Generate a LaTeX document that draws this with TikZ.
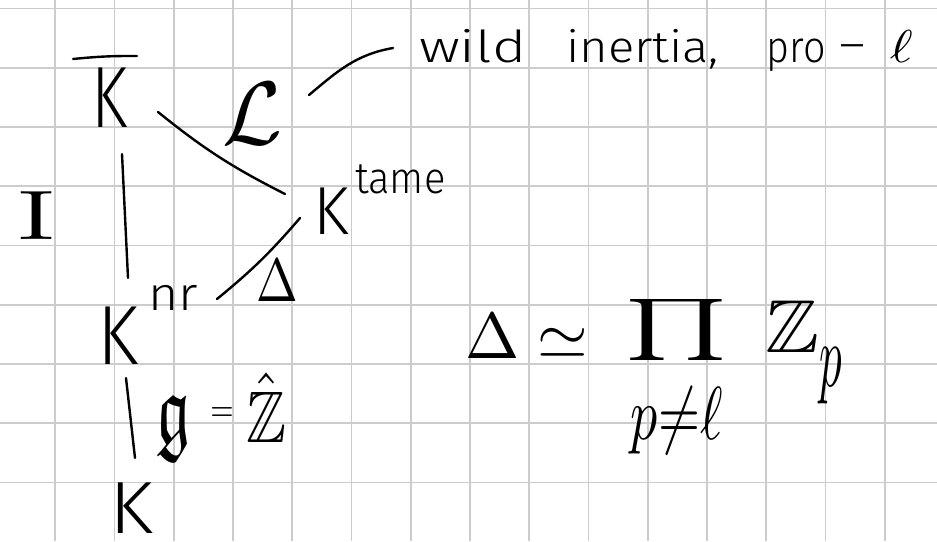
\documentclass[tikz,border=0pt]{standalone}
\usepackage{fontspec}
\usepackage{amssymb}
\usepackage{graphicx}
\newfontfamily\hand{Fira Sans Light}
\usetikzlibrary{calc}
\begin{document}
\begin{tikzpicture}[x=1pt,y=1pt,
  ink/.style={line width=2.4pt, line cap=round, black},
  gridline/.style={line width=1.8pt, color=gray!40},
  lbl/.style={inner sep=0pt, outer sep=0pt, font=\hand}]
\useasboundingbox (0,0) rectangle (937,-541);
\fill[white] (0,0) rectangle (937,-541);
\foreach \i in {0,...,14} \draw[gridline] ({55.2+59.25*\i},0) -- ({55.2+59.25*\i},-541);
\foreach \j in {0,...,8} \draw[gridline] (0,{-8.5-59.25*\j}) -- (937,{-8.5-59.25*\j});

% labels
\node[lbl] (kbar) at (110,-98) {\scalebox{6.6}[8.7]{K}};
\node[lbl] (calL) at (253,-114) {\scalebox{8.7}[9]{$\mathcal{L}$}};
\node[lbl] (ktame) at (331,-211) {\scalebox{6.5}[6.8]{K}};
\node[lbl, anchor=base west] (tame) at ([shift={(24,18)}]ktame.center) {\scalebox{4.0}[4.4]{tame}};
\node[lbl] (inert) at (37,-216) {\scalebox{10}[7]{\rmfamily I}};
\node[lbl] (knr) at (118,-336) {\scalebox{7.5}[8.4]{K}};
\node[lbl, anchor=base west] (nr) at ([shift={(30,26)}]knr.center) {\scalebox{5.2}[4.7]{nr}};
\node[lbl] (dlt) at (277,-281) {\scalebox{5}[6.1]{$\Delta$}};
\node[lbl, anchor=base west] (gal) at (156,-442) {%
  \scalebox{6.8}[10]{$\mathfrak{g}$}\hspace{20pt}%
  \raisebox{21pt}{\scalebox{3}[3.8]{$=$}}\hspace{13pt}%
  \scalebox{6}[7.3]{$\hat{\mathbb{Z}}$}};
\node[lbl] (kbot) at (131,-508) {\scalebox{8}[7.4]{K}};
\node[lbl, anchor=base west] (wild) at (419,-62) {%
  \scalebox{5.85}[4.4]{wild}\hspace{40pt}%
  \scalebox{4.9}[4.4]{inertia,}\hspace{48pt}%
  \scalebox{3.95}[4.4]{pro}\hspace{14pt}%
  \raisebox{2pt}{\scalebox{5}[4.4]{–}}\hspace{24pt}%
  \scalebox{5.5}[4.6]{$\ell$}};
\node[lbl, anchor=base west] (iso) at (465,-358) {%
  \scalebox{6.5}{$\Delta$}\hspace{18pt}%
  \scalebox{6.5}{$\simeq$}\hspace{37pt}%
  \begin{tabular}[t]{@{}c@{}}\raisebox{13pt}{\scalebox{11}[6.1]{$\prod$}}\\[26pt]
    \scalebox{5.4}[7.5]{$p\mathord{\neq}\ell$}\end{tabular}%
  \hspace{37pt}%
  \raisebox{6pt}{\scalebox{8.1}[7.5]{$\mathbb{Z}$}}%
  \raisebox{-28pt}{\scalebox{4.5}[9]{$p$}}};

% bar over K
\draw[ink] ([shift={(-37,39)}]kbar.center) to[bend left=3] ([shift={(27,42)}]kbar.center);

% connectors
\draw[ink] ([shift={(48,-14)}]kbar.center) to[bend right=6] ([shift={(-46,17)}]ktame.center);
\draw[ink] ([shift={(12,-56)}]kbar.center) -- ([shift={(10,58)}]knr.center);
\draw[ink] ([shift={(99,37)}]knr.center) to[bend right=5] ([shift={(-31,-7)}]ktame.center);
\draw[ink] ([shift={(8,-42)}]knr.center) -- ([shift={(4,50)}]kbot.center);
\draw[ink] ([shift={(56,19)}]calL.center) to[out=40,in=190] ([shift={(-26,14)}]wild.base west);
\end{tikzpicture}
\end{document}
